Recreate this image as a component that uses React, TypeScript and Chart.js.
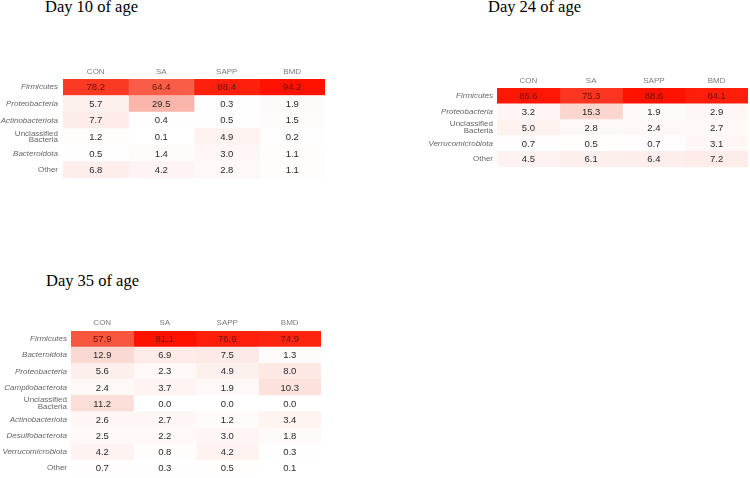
import React, { useEffect, useRef } from 'react';
import { Chart, registerables } from 'chart.js';

Chart.register(...registerables);

const GROUPS = ['CON', 'SA', 'SAPP', 'BMD'];

const DAY10_TAXA = ['Firmicutes', 'Proteobacteria', 'Actinobacteriota', 'Unclassified Bacteria', 'Bacteroidota', 'Other'];
const DAY10_CON = [78.2, 5.7, 7.7, 1.2, 0.5, 6.8];
const DAY10_SA = [64.4, 29.5, 0.4, 0.1, 1.4, 4.2];
const DAY10_SAPP = [88.4, 0.3, 0.5, 4.9, 3.0, 2.8];
const DAY10_BMD = [94.2, 1.9, 1.5, 0.2, 1.1, 1.1];

const DAY24_TAXA = ['Firmicutes', 'Proteobacteria', 'Unclassified Bacteria', 'Verrucomicrobiota', 'Other'];
const DAY24_CON = [86.6, 3.2, 5.0, 0.7, 4.5];
const DAY24_SA = [75.3, 15.3, 2.8, 0.5, 6.1];
const DAY24_SAPP = [88.6, 1.9, 2.4, 0.7, 6.4];
const DAY24_BMD = [84.1, 2.9, 2.7, 3.1, 7.2];

const DAY35_TAXA = ['Firmicutes', 'Bacteroidota', 'Proteobacteria', 'Campilobacterota', 'Unclassified Bacteria', 'Actinobacteriota', 'Desulfobacterota', 'Verrucomicrobiota', 'Other'];
const DAY35_CON = [57.9, 12.9, 5.6, 2.4, 11.2, 2.6, 2.5, 4.2, 0.7];
const DAY35_SA = [81.1, 6.9, 2.3, 3.7, 0.0, 2.7, 2.2, 0.8, 0.3];
const DAY35_SAPP = [76.9, 7.5, 4.9, 1.9, 0.0, 1.2, 3.0, 4.2, 0.5];
const DAY35_BMD = [74.9, 1.3, 8.0, 10.3, 0.0, 3.4, 1.8, 0.3, 0.1];

const SANS = "'Liberation Sans', Arial, sans-serif";
const SERIF = "'Liberation Serif', 'Times New Roman', serif";

function cellColor(t: number): string {
  const r = Math.round(255 - 28 * t * (1 - t));
  const g = Math.round(255 * (1 - 0.93 * t));
  const b = Math.round(255 * Math.pow(Math.max(0, 1 - t), 1.1));
  return `rgb(${r},${g},${b})`;
}

type HeatProps = {
  taxa: string[];
  values: number[][];
  left: number;
  top: number;
  width: number;
  height: number;
  yW: number;
  xH: number;
  padR: number;
  headPad: number;
  labPad: number;
};

function Heatmap(p: HeatProps) {
  const ref = useRef<HTMLCanvasElement>(null);
  useEffect(() => {
    const { taxa, values } = p;
    const max = Math.max(...values.flat());
    const datasets = values.map((col, j) => ({
      label: GROUPS[j],
      data: col.map(() => [j, j + 1]),
      backgroundColor: col.map((v) => cellColor(v / max)),
      borderWidth: 0,
      barPercentage: 1,
      categoryPercentage: 1,
      grouped: false,
    }));
    const textPlugin = {
      id: 'cellText',
      afterDatasetsDraw(chart: any) {
        const { ctx, scales } = chart;
        const xs = scales.x;
        const ys = scales.y;
        ctx.save();
        ctx.font = `9.5px ${SANS}`;
        ctx.textAlign = 'center';
        ctx.textBaseline = 'middle';
        values.forEach((col, j) => {
          col.forEach((v, i) => {
            ctx.fillStyle = v / max > 0.55 ? '#6a1208' : '#2a2a2a';
            ctx.fillText(v.toFixed(1), xs.getPixelForValue(j + 0.5), ys.getPixelForValue(i) + 0.5);
          });
        });
        ctx.restore();
      },
    };
    const labels = taxa.map((t) => (t === 'Unclassified Bacteria' ? ['Unclassified', 'Bacteria'] : t));
    const chart = new Chart(ref.current as HTMLCanvasElement, {
      type: 'bar',
      data: { labels: labels as any, datasets: datasets as any },
      options: {
        responsive: false,
        maintainAspectRatio: false,
        animation: false,
        indexAxis: 'y',
        layout: { padding: { top: 5, right: p.padR, bottom: 5, left: 0 } },
        plugins: {
          legend: { display: false },
          tooltip: { enabled: false },
          title: { display: false },
        },
        scales: {
          x: {
            type: 'linear',
            position: 'top',
            min: 0,
            max: 4,
            grid: { display: false, drawTicks: false },
            border: { display: false },
            afterBuildTicks: (s: any) => {
              s.ticks = GROUPS.map((_, i) => ({ value: i + 0.5 }));
            },
            afterFit: (s: any) => {
              s.height = p.xH;
            },
            ticks: {
              autoSkip: false,
              maxRotation: 0,
              padding: p.headPad,
              color: '#7c7c7c',
              font: { family: SANS, size: 8 },
              callback: (_v: any, i: number) => GROUPS[i],
            },
          },
          y: {
            type: 'category',
            grid: { display: false, drawTicks: false },
            border: { display: false },
            afterFit: (s: any) => {
              s.width = p.yW;
            },
            ticks: {
              autoSkip: false,
              padding: p.labPad,
              color: '#666666',
              font: (ctx: any) => {
                const name = taxa[ctx.index];
                if (name === 'Unclassified Bacteria') {
                  return { family: SANS, size: 8, style: 'normal', lineHeight: 0.85 };
                }
                if (name === 'Other') {
                  return { family: SANS, size: 8, style: 'normal' };
                }
                return { family: SANS, size: 8, style: 'italic' };
              },
            },
          },
        },
      } as any,
      plugins: [textPlugin],
    });
    return () => chart.destroy();
  }, []);
  return (
    <canvas
      ref={ref}
      width={p.width}
      height={p.height}
      style={{ position: 'absolute', left: p.left, top: p.top, width: p.width, height: p.height }}
    />
  );
}

const titleStyle: React.CSSProperties = {
  position: 'absolute',
  fontFamily: SERIF,
  fontSize: 16.5,
  lineHeight: '16.5px',
  color: '#000',
  whiteSpace: 'nowrap',
};

export default function App() {
  return (
    <div
      style={{
        position: 'fixed',
        left: 0,
        top: 0,
        width: 750,
        height: 478,
        overflow: 'hidden',
        background: '#ffffff',
      }}
    >
      <div style={{ ...titleStyle, left: 45, top: -1 }}>Day 10 of age</div>
      <div style={{ ...titleStyle, left: 488, top: -1 }}>Day 24 of age</div>
      <div style={{ ...titleStyle, left: 46, top: 273 }}>Day 35 of age</div>
      <Heatmap
        taxa={DAY10_TAXA}
        values={[DAY10_CON, DAY10_SA, DAY10_SAPP, DAY10_BMD]}
        left={0}
        top={60}
        width={330}
        height={128}
        yW={63}
        xH={14}
        padR={5}
        headPad={2}
        labPad={5}
      />
      <Heatmap
        taxa={DAY24_TAXA}
        values={[DAY24_CON, DAY24_SA, DAY24_SAPP, DAY24_BMD]}
        left={420}
        top={60}
        width={330}
        height={116}
        yW={77}
        xH={23}
        padR={2}
        headPad={2}
        labPad={4}
      />
      <Heatmap
        taxa={DAY35_TAXA}
        values={[DAY35_CON, DAY35_SA, DAY35_SAPP, DAY35_BMD]}
        left={0}
        top={310}
        width={330}
        height={175}
        yW={71}
        xH={16}
        padR={9}
        headPad={3}
        labPad={4}
      />
    </div>
  );
}
